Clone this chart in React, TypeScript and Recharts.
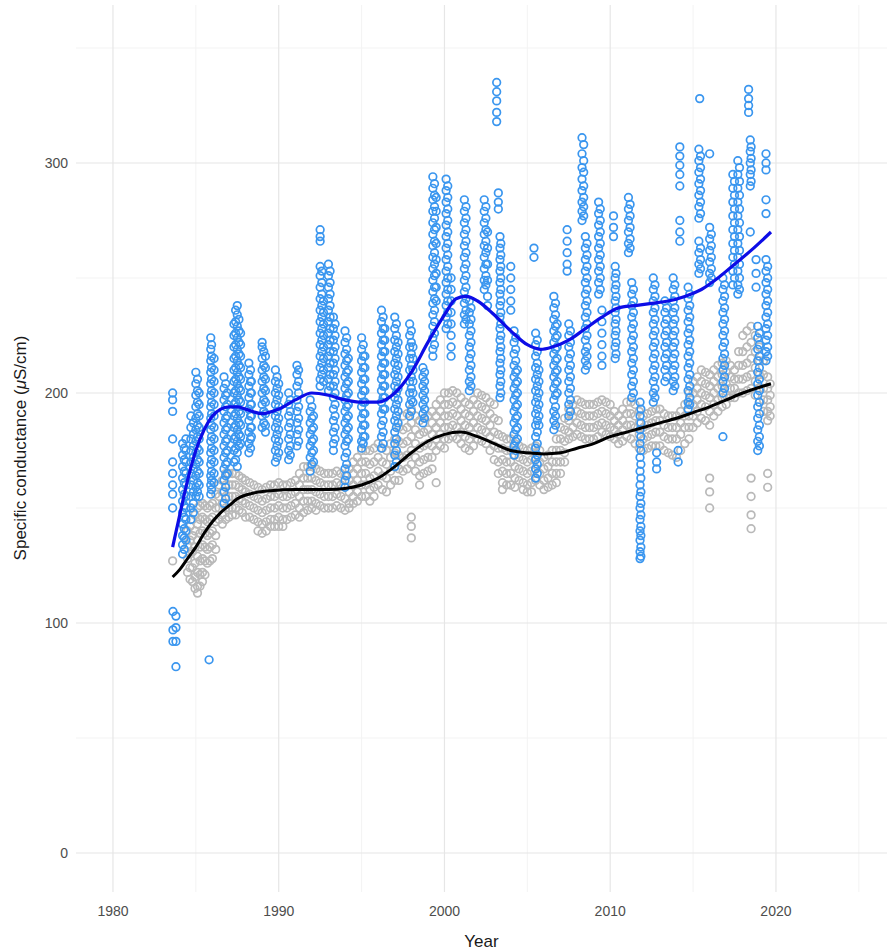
import React from "react";
import { ComposedChart, Scatter, Line, XAxis, YAxis, CartesianGrid } from "recharts";

// each streak: [year, ...readings]
const blueStreaks: number[][] = [
  [1983.6, 200, 197, 192, 180, 170, 165, 160, 156, 150],
  [1983.62, 105, 97, 92],
  [1983.8, 103, 98, 92, 81],
  [1984.2, 178, 173, 168, 163, 158, 153, 148, 143, 138, 134, 130],
  [1984.4, 180, 175, 170, 165, 160, 155, 150, 145, 140, 136],
  [1984.7, 190, 185, 180, 175, 170, 165, 160, 155, 150, 145],
  [1985.0, 209, 204, 199, 194, 189, 184, 179, 174, 169, 164, 159, 155],
  [1985.2, 200, 195, 190, 185, 180, 175, 170, 165, 160, 155],
  [1985.8, 84],
  [1985.9, 224, 219, 214, 209, 204, 199, 194, 189, 184, 179, 174, 169, 164, 160, 156],
  [1986.1, 215, 210, 205, 200, 195, 190, 185, 180, 175, 170, 165, 161],
  [1986.7, 207, 202, 197, 192, 187, 182, 177, 172, 167, 162, 157, 152],
  [1986.9, 200, 195, 190, 185, 180, 175, 170, 165],
  [1987.3, 230, 225, 220, 215, 210, 205, 200, 195, 190, 185, 180, 175, 170],
  [1987.5, 238, 234, 229, 224, 219, 214, 209, 204, 199, 194, 189, 184, 179, 174, 168],
  [1987.7, 226, 221, 216, 211, 206, 201, 196, 191, 186, 181, 178],
  [1988.2, 213, 208, 203, 198, 193, 188, 183, 178, 174],
  [1988.35, 205, 200, 195, 190, 185, 181],
  [1989.0, 222, 220, 215, 210, 205, 200, 195, 190, 185],
  [1989.2, 216, 211, 206, 201, 196, 191, 186, 183],
  [1989.8, 210, 205, 200, 195, 190, 185, 180, 175, 170],
  [1990.0, 204, 199, 194, 189, 184, 179, 174],
  [1990.6, 200, 195, 190, 185, 180, 175, 171],
  [1991.1, 212, 208, 203, 197, 192, 187, 182, 177],
  [1991.9, 197, 192, 187, 182, 177, 172, 166],
  [1992.1, 190, 185, 180, 175, 170],
  [1992.5, 271, 268, 266, 255, 251, 246, 241, 236, 231, 226, 221, 216, 211, 206, 203],
  [1992.7, 240, 235, 230, 225, 220, 215, 210, 205],
  [1993.0, 256, 251, 246, 241, 236, 231, 226, 221, 216, 211, 206, 201],
  [1993.3, 233, 228, 223, 218, 213, 208, 203, 198, 193, 188, 183, 178, 175],
  [1994.0, 227, 222, 217, 212, 207, 202, 197, 192, 187, 182, 177, 172, 167, 162, 159],
  [1994.2, 215, 210, 205, 200, 195, 190, 185, 180],
  [1995.0, 224, 219, 214, 209, 204, 199, 194, 189, 184, 179, 176],
  [1995.2, 216, 211, 206, 201, 196, 191, 186, 181],
  [1996.2, 236, 231, 226, 221, 216, 211, 206, 201, 196, 191, 186, 181, 176],
  [1996.4, 228, 223, 218, 213, 208, 203, 198, 193],
  [1997.0, 233, 228, 223, 218, 213, 208, 203, 198, 193, 188, 183, 178, 173, 168],
  [1997.2, 222, 217, 212, 207, 202, 197, 192, 187],
  [1997.9, 230, 225, 220, 215, 210, 205, 200, 195, 190],
  [1998.1, 220, 215, 210, 205, 200, 196],
  [1998.7, 211, 207, 203, 199, 195, 191, 187],
  [1999.3, 294, 289, 284, 279, 274, 269, 264, 259, 254, 249, 244, 239, 234, 229, 224, 219, 216],
  [1999.5, 285, 279, 272, 265, 258, 252, 246, 240],
  [2000.1, 293, 288, 283, 278, 273, 268, 263, 258, 253, 248, 243, 238, 233, 228],
  [2000.4, 250, 245, 240, 235, 230, 225, 220, 216],
  [2001.2, 284, 279, 274, 269, 264, 259, 254, 249, 244, 239, 234, 230],
  [2001.5, 240, 235, 230, 225, 220, 215, 210, 205, 201],
  [2002.4, 284, 279, 274, 269, 264, 259, 254, 249, 245],
  [2002.6, 270, 263, 256, 249, 242, 238],
  [2003.15, 335, 331, 327, 322, 318],
  [2003.25, 287, 283, 280],
  [2003.35, 268, 263, 258, 253, 248, 243, 238, 233, 228, 223, 218, 213, 208, 203, 198],
  [2004.0, 255, 250, 245, 240, 236],
  [2004.2, 227, 222, 217, 212, 207, 202, 197, 192, 187, 182, 177, 173],
  [2004.4, 210, 205, 200, 195, 190, 185, 180],
  [2005.4, 263, 259],
  [2005.5, 226, 221, 216, 211, 206, 201, 196, 191, 186, 181, 176, 171, 167, 163],
  [2005.7, 210, 205, 200, 195, 190, 186],
  [2006.6, 242, 237, 232, 227, 222, 217, 212, 207, 202, 197, 192, 188, 184],
  [2006.8, 230, 225, 220, 215, 210, 205, 200],
  [2007.4, 271, 266, 261, 256, 253],
  [2007.5, 230, 225, 220, 215, 210, 205, 200, 195, 190],
  [2008.3, 311, 304, 298, 293, 288, 283, 279, 275],
  [2008.5, 268, 263, 258, 253, 248, 243, 238, 233, 228, 223, 218, 214, 210],
  [2009.3, 283, 278, 273, 268, 263, 258, 253, 248, 243],
  [2009.5, 236, 231, 226, 221, 216, 212],
  [2010.2, 277, 272, 268],
  [2010.3, 255, 250, 245, 240, 235, 230, 225, 220, 215],
  [2011.1, 285, 280, 275, 270, 265, 261],
  [2011.3, 248, 243, 238, 233, 228, 223, 218, 213, 208, 203, 198],
  [2011.8, 196, 190, 184, 178, 172, 166, 160, 155, 150, 145, 140, 136, 131, 128],
  [2012.6, 250, 245, 240, 235, 230, 225, 220, 215, 210, 205, 200, 196],
  [2012.8, 174, 170, 167],
  [2013.3, 240, 235, 230, 225, 220, 215, 210, 205],
  [2013.8, 250, 245, 240, 235, 230, 225, 220, 215, 210, 205, 201],
  [2014.1, 175, 170],
  [2014.2, 307, 303, 299, 295, 290, 275, 270, 266],
  [2014.7, 246, 241, 236, 231, 226, 221, 216, 211, 206, 201, 196, 193],
  [2015.4, 328],
  [2015.35, 306, 301, 296, 291, 286, 281, 276, 266, 261, 256, 252],
  [2016.0, 304, 272, 267, 262, 257, 252, 248],
  [2016.8, 250, 245, 240, 235, 230, 225, 220, 215, 210, 205, 200, 181],
  [2017.4, 295, 289, 283, 277, 271, 265, 259, 253, 247],
  [2017.7, 301, 295, 289, 283, 277, 271, 265, 259, 253, 247, 243],
  [2018.35, 332, 328, 325, 322],
  [2018.45, 310, 305, 300, 295, 290, 270],
  [2018.8, 258, 252, 246],
  [2018.9, 229, 224, 219, 214, 209, 204, 199, 194, 189, 184, 179, 175],
  [2019.4, 304, 300, 297, 284, 278, 258, 253, 248, 243, 238, 233, 228, 223, 218, 214],
];

// second pass of readings between the first ones (the streaks are dense)
const blueFill: number[][] = [
  [1984.3, 176, 171, 166, 161, 156, 151, 146, 141, 137, 132],
  [1984.85, 187, 182, 177, 172, 167, 162, 157, 152, 148],
  [1985.1, 206, 201, 196, 191, 186, 181, 176, 171, 166, 161, 157],
  [1985.95, 221, 216, 211, 206, 201, 196, 191, 186, 181, 176, 171, 166, 162, 158],
  [1986.8, 204, 199, 194, 189, 184, 179, 174, 169, 164, 159, 154],
  [1987.4, 236, 231, 226, 221, 216, 211, 206, 201, 196, 191, 186, 181, 176, 171],
  [1987.6, 232, 227, 222, 217, 212, 207, 202, 197, 192, 187, 182, 177],
  [1988.3, 210, 205, 200, 195, 190, 185, 180, 176],
  [1989.1, 218, 212, 207, 202, 197, 192, 187],
  [1989.9, 207, 202, 197, 192, 187, 182, 177, 172],
  [1990.7, 197, 192, 187, 182, 177, 173],
  [1991.2, 210, 205, 200, 194, 189, 184, 179],
  [1992.0, 194, 189, 184, 179, 174, 169],
  [1992.6, 253, 248, 243, 238, 233, 228, 223, 218, 213, 208],
  [1993.1, 253, 248, 243, 238, 233, 228, 223, 218, 213, 208, 203],
  [1993.4, 230, 225, 220, 215, 210, 205, 200, 195, 190, 185, 180],
  [1994.1, 224, 219, 214, 209, 204, 199, 194, 189, 184, 179, 174, 169, 164],
  [1995.1, 221, 216, 211, 206, 201, 196, 191, 186, 181, 178],
  [1996.3, 233, 228, 223, 218, 213, 208, 203, 198, 193, 188, 183, 178],
  [1997.1, 230, 225, 220, 215, 210, 205, 200, 195, 190, 185, 180, 175, 170],
  [1998.0, 227, 222, 217, 212, 207, 202, 197, 192],
  [1998.8, 209, 205, 201, 197, 193, 189],
  [1999.4, 291, 286, 281, 276, 271, 266, 261, 256, 251, 246, 241, 236, 231, 226, 221],
  [2000.2, 290, 285, 280, 275, 270, 265, 260, 255, 250, 245, 240, 235, 230],
  [2001.3, 281, 276, 271, 266, 261, 256, 251, 246, 241, 236, 232],
  [2001.6, 237, 232, 227, 222, 217, 212, 207, 203],
  [2002.5, 281, 276, 271, 266, 261, 256, 251, 247],
  [2003.4, 265, 260, 255, 250, 245, 240, 235, 230, 225, 220, 215, 210, 205, 200],
  [2004.3, 224, 219, 214, 209, 204, 199, 194, 189, 184, 179, 175],
  [2005.6, 223, 218, 213, 208, 203, 198, 193, 188, 183, 178, 173, 169, 165],
  [2006.7, 239, 234, 229, 224, 219, 214, 209, 204, 199, 194, 190, 186],
  [2007.6, 227, 222, 217, 212, 207, 202, 197, 192],
  [2008.4, 308, 301, 296, 290, 285, 281, 277],
  [2008.6, 265, 260, 255, 250, 245, 240, 235, 230, 225, 220, 216, 212],
  [2009.4, 280, 275, 270, 265, 260, 255, 250, 245],
  [2010.35, 252, 247, 242, 237, 232, 227, 222, 217],
  [2011.2, 282, 277, 272, 267, 263],
  [2011.4, 245, 240, 235, 230, 225, 220, 215, 210, 205, 200],
  [2011.85, 193, 187, 181, 175, 169, 163, 157, 152, 147, 142, 138, 133, 129],
  [2012.7, 247, 242, 237, 232, 227, 222, 217, 212, 207, 202, 198],
  [2013.4, 237, 232, 227, 222, 217, 212, 207],
  [2013.9, 247, 242, 237, 232, 227, 222, 217, 212, 207, 203],
  [2014.8, 243, 238, 233, 228, 223, 218, 213, 208, 203, 198, 195],
  [2015.45, 303, 298, 293, 288, 283, 278, 263, 258, 254],
  [2016.1, 269, 264, 259, 254, 250],
  [2016.9, 247, 242, 237, 232, 227, 222, 217, 212, 207, 202],
  [2017.5, 292, 286, 280, 274, 268, 262, 256, 250],
  [2017.8, 298, 292, 286, 280, 274, 268, 262, 256, 250, 245],
  [2018.5, 307, 302, 297, 292],
  [2019.0, 226, 221, 216, 211, 206, 201, 196, 191, 186, 181, 177],
  [2019.5, 255, 250, 245, 240, 235, 230, 225, 220, 216],
];

const greyStreaks: number[][] = [
  [1983.6, 127],
  [1984.5, 140, 134, 128, 122],
  [1984.8, 145, 138, 131, 124, 118],
  [1985.1, 150, 143, 136, 129, 122, 116, 113],
  [1985.4, 152, 146, 140, 134, 128, 122, 118],
  [1985.7, 150, 144, 138, 132, 126],
  [1986.0, 152, 146, 140, 134, 128],
  [1986.4, 160, 155, 150, 145],
  [1986.8, 165, 160, 155, 150, 145],
  [1987.2, 165, 160, 155, 150, 147],
  [1987.6, 164, 159, 154, 149],
  [1988.0, 162, 157, 152, 146],
  [1988.5, 160, 155, 150, 145],
  [1989.0, 158, 153, 148, 143, 139],
  [1989.5, 160, 155, 150, 145, 142],
  [1990.0, 161, 156, 151, 146, 142],
  [1990.5, 160, 155, 150, 145],
  [1991.0, 162, 157, 152, 147],
  [1991.5, 168, 163, 158, 153, 148],
  [1992.0, 168, 163, 158, 153, 150],
  [1992.5, 166, 161, 156, 151],
  [1993.0, 165, 160, 155, 150],
  [1993.5, 166, 161, 156, 151],
  [1994.0, 164, 159, 154, 149],
  [1994.5, 170, 165, 160, 155, 152],
  [1995.0, 175, 170, 165, 160, 155],
  [1995.5, 175, 169, 163, 158, 153],
  [1996.0, 178, 172, 166, 160],
  [1996.5, 175, 169, 163, 157],
  [1997.0, 180, 174, 168, 162],
  [1997.5, 190, 184, 178, 172, 166],
  [1998.0, 193, 187, 181, 175, 169, 146, 142, 137],
  [1998.5, 188, 182, 176, 170, 164, 160],
  [1999.0, 190, 184, 178, 172, 166],
  [1999.5, 195, 190, 185, 180, 175, 161],
  [2000.0, 200, 195, 190, 185, 180, 176],
  [2000.5, 201, 196, 191, 186, 181],
  [2001.0, 198, 193, 188, 183, 178],
  [2001.5, 195, 190, 185, 180, 175],
  [2002.0, 200, 195, 190, 185, 180],
  [2002.5, 198, 193, 188, 183, 178],
  [2003.0, 195, 189, 183, 177, 171],
  [2003.5, 181, 176, 171, 166, 161, 158],
  [2004.0, 180, 175, 170, 165, 160],
  [2004.5, 177, 172, 167, 162],
  [2005.0, 175, 170, 165, 160, 157],
  [2005.5, 177, 172, 167, 162],
  [2006.0, 172, 167, 162, 158],
  [2006.5, 175, 170, 165, 160],
  [2007.0, 185, 180, 175, 170, 165],
  [2007.5, 193, 188, 183, 180],
  [2008.0, 197, 192, 187, 182],
  [2008.5, 195, 190, 185, 180],
  [2009.0, 195, 190, 185, 180],
  [2009.5, 197, 192, 187, 183],
  [2010.0, 195, 190, 185, 181],
  [2010.5, 190, 186, 182, 178],
  [2011.0, 196, 191, 186, 181],
  [2011.5, 195, 190, 185, 178],
  [2012.0, 190, 185, 180, 175],
  [2012.5, 192, 187, 182, 177],
  [2013.0, 193, 188, 183, 177],
  [2013.5, 190, 185, 180, 174],
  [2014.0, 190, 185, 180, 172],
  [2014.5, 195, 190, 185, 178],
  [2015.0, 205, 200, 195, 190, 185],
  [2015.5, 210, 205, 200, 195, 189],
  [2016.0, 208, 203, 198, 192, 186, 163, 157, 150],
  [2016.5, 212, 207, 202, 197, 192],
  [2017.0, 214, 209, 204, 199, 195],
  [2017.5, 210, 206, 202, 198],
  [2018.0, 225, 218, 212, 206, 200],
  [2018.5, 229, 222, 215, 208, 202, 163, 155, 147, 141],
  [2019.0, 220, 214, 208, 202, 196],
  [2019.5, 207, 202, 197, 192, 188, 165, 159],
];

const greyFill: number[][] = [
  [1984.65, 142, 136, 130, 124, 119],
  [1984.95, 147, 140, 133, 126, 120, 115],
  [1985.25, 151, 145, 139, 133, 127, 121, 116],
  [1985.55, 151, 145, 139, 133, 127, 121],
  [1985.85, 151, 145, 139, 133, 127],
  [1986.2, 156, 150, 144, 138, 132],
  [1986.6, 162, 157, 152, 147, 143],
  [1987.0, 165, 160, 155, 150, 146],
  [1987.4, 165, 160, 155, 150, 147],
  [1987.8, 163, 158, 153, 148],
  [1988.25, 161, 156, 151, 146],
  [1988.75, 159, 154, 149, 144, 140],
  [1989.25, 159, 154, 149, 144, 140],
  [1989.75, 160, 155, 150, 145, 142],
  [1990.25, 160, 155, 150, 145, 142],
  [1990.75, 161, 156, 151, 146],
  [1991.25, 165, 160, 155, 150, 146],
  [1991.75, 168, 163, 158, 153, 149],
  [1992.25, 167, 162, 157, 152, 149],
  [1992.75, 165, 160, 155, 150],
  [1993.25, 165, 160, 155, 150],
  [1993.75, 165, 160, 155, 150],
  [1994.25, 167, 162, 157, 152, 150],
  [1994.75, 172, 167, 162, 157, 153],
  [1995.25, 175, 170, 165, 160, 155],
  [1995.75, 176, 170, 164, 159, 155],
  [1996.25, 176, 170, 164, 158],
  [1996.75, 178, 172, 166, 160],
  [1997.25, 185, 179, 173, 167, 162],
  [1997.75, 191, 185, 179, 173, 167],
  [1998.25, 190, 184, 178, 172, 166],
  [1998.75, 189, 183, 177, 171, 165],
  [1999.25, 192, 187, 182, 177, 172, 167],
  [1999.75, 197, 192, 187, 182, 177],
  [2000.25, 200, 195, 190, 185, 180],
  [2000.75, 200, 195, 190, 185, 180],
  [2001.25, 196, 191, 186, 181, 176],
  [2001.75, 197, 192, 187, 182, 177],
  [2002.25, 199, 194, 189, 184, 179],
  [2002.75, 196, 191, 186, 181, 175],
  [2003.25, 188, 182, 176, 170, 165],
  [2003.75, 180, 175, 170, 165, 160],
  [2004.25, 178, 173, 168, 163, 159],
  [2004.75, 176, 171, 166, 161, 158],
  [2005.25, 176, 171, 166, 161, 157],
  [2005.75, 175, 170, 165, 160],
  [2006.25, 173, 168, 163, 159],
  [2006.75, 180, 175, 170, 165, 161],
  [2007.25, 189, 184, 179, 174, 170],
  [2007.75, 195, 190, 185, 181],
  [2008.25, 196, 191, 186, 181],
  [2008.75, 195, 190, 185, 180],
  [2009.25, 196, 191, 186, 181],
  [2009.75, 196, 191, 186, 182],
  [2010.25, 192, 188, 184, 180],
  [2010.75, 193, 188, 184, 179],
  [2011.25, 196, 191, 186, 180],
  [2011.75, 192, 187, 182, 176],
  [2012.25, 191, 186, 181, 176],
  [2012.75, 193, 188, 183, 177],
  [2013.25, 191, 186, 181, 175],
  [2013.75, 190, 185, 180, 173],
  [2014.25, 192, 187, 182, 175],
  [2014.75, 200, 195, 190, 185, 180],
  [2015.25, 207, 202, 197, 192, 187],
  [2015.75, 209, 204, 199, 194, 188],
  [2016.25, 210, 205, 200, 195, 190],
  [2016.75, 213, 208, 203, 198, 194],
  [2017.25, 212, 207, 202, 198],
  [2017.75, 218, 212, 206, 200],
  [2018.25, 227, 220, 213, 207, 201],
  [2018.75, 225, 218, 211, 205, 199],
  [2019.25, 214, 208, 202, 197, 192],
  [2019.65, 204, 199, 194, 190],
];

const blueTrendYears = [1983.6, 1984.0, 1984.5, 1985.0, 1985.5, 1986.0, 1986.5, 1987.0, 1987.5, 1988.0, 1989.0, 1990.0, 1991.0, 1992.0, 1993.0, 1994.0, 1995.0, 1996.0, 1997.0, 1998.0, 1999.0, 2000.0, 2000.7, 2001.3, 2002.0, 2003.0, 2004.0, 2005.0, 2005.8, 2006.5, 2007.5, 2008.5, 2009.5, 2010.5, 2011.5, 2012.5, 2013.5, 2014.5, 2015.5, 2016.5, 2017.5, 2018.5, 2019.7];
const blueTrendValues = [133, 146, 162, 175, 184, 190, 193, 194, 194, 193, 191, 193, 197, 200, 199, 197, 196, 196, 200, 209, 222, 234, 241, 242, 240, 234, 227, 221, 219, 220, 223, 228, 233, 237, 238, 239, 240, 242, 245, 250, 256, 262, 270];

const blackTrendYears = [1983.6, 1984.0, 1984.5, 1985.0, 1985.5, 1986.0, 1986.5, 1987.0, 1987.5, 1988.5, 1989.5, 1991.0, 1993.0, 1994.0, 1995.0, 1996.0, 1997.0, 1998.0, 1999.0, 2000.0, 2001.0, 2002.0, 2003.0, 2004.0, 2005.0, 2006.0, 2007.0, 2008.0, 2009.0, 2010.0, 2011.0, 2012.0, 2013.0, 2014.0, 2015.0, 2016.0, 2017.0, 2018.0, 2019.7];
const blackTrendValues = [120, 123, 128, 133, 139, 144, 148, 151, 154, 156.5, 157.5, 158, 158, 158.5, 160, 163, 168, 174, 179, 182, 183, 181, 178, 175, 174, 173.5, 174, 176, 178, 181, 183, 185, 187, 189, 191.5, 194, 197, 200, 204];

const yearTicks = [1980, 1990, 2000, 2010, 2020];
const yearMinor = [1985, 1995, 2005, 2015, 2025];
const valueTicks = [0, 100, 200, 300];
const valueMinor = [50, 150, 250, 350];

const toPoints = (streaks: number[][]) =>
  streaks.flatMap(([year, ...vals]) => vals.map((value) => ({ year, value })));
const toLine = (years: number[], values: number[]) =>
  years.map((year, i) => ({ year, value: values[i] }));

const bluePoints = [...toPoints(blueStreaks), ...toPoints(blueFill)];
const greyPoints = [...toPoints(greyStreaks), ...toPoints(greyFill)];
const blueTrend = toLine(blueTrendYears, blueTrendValues);
const blackTrend = toLine(blackTrendYears, blackTrendValues);

const font = "'Liberation Sans', Arial, sans-serif";

const ring = (color: string) => (props: any) =>
  <circle cx={props.cx} cy={props.cy} r={3.8} fill="none" stroke={color} strokeWidth={1.7} />;

const YLabel = () => (
  <text x={22} y={448} transform="rotate(-90 22 448)" textAnchor="middle" dominantBaseline="middle"
    fontFamily={font} fontSize={17} fill="#1a1a1a">
    Specific conductance (<tspan fontStyle="italic">μ</tspan>S/cm)
  </text>
);

export default function App() {
  return (
    <div style={{ position: "absolute", left: 0, top: 0 }}>
      <ComposedChart width={887} height={951} margin={{ top: 5, right: 0, left: 0, bottom: 0 }}>
        <CartesianGrid stroke="#f3f3f3" strokeWidth={1} horizontalValues={valueMinor} verticalValues={yearMinor} />
        <CartesianGrid stroke="#e6e6e6" strokeWidth={1.2} horizontalValues={valueTicks} verticalValues={yearTicks} />
        <XAxis dataKey="year" type="number" domain={[1977.77, 2026.7]} allowDataOverflow ticks={yearTicks}
          axisLine={false} tickLine={false} tickMargin={8} height={59}
          tick={{ fill: "#4d4d4d", fontSize: 14, fontFamily: font }}
          label={{ value: "Year", position: "insideBottom", offset: 4, fill: "#1a1a1a", fontSize: 17, fontFamily: font }} />
        <YAxis dataKey="value" type="number" domain={[-16.96, 368.7]} allowDataOverflow ticks={valueTicks}
          axisLine={false} tickLine={false} width={76}
          tick={{ fill: "#4d4d4d", fontSize: 14, fontFamily: font }}
          label={<YLabel />} />
        <Scatter data={greyPoints} dataKey="value" shape={ring("#b9b9b9")} isAnimationActive={false} zIndex={600} />
        <Scatter data={bluePoints} dataKey="value" shape={ring("#3a96ef")} isAnimationActive={false} zIndex={610} />
        <Line data={blackTrend} dataKey="value" type="monotone" stroke="#000000" strokeWidth={3}
          dot={false} activeDot={false} isAnimationActive={false} zIndex={900} />
        <Line data={blueTrend} dataKey="value" type="monotone" stroke="#0d0de6" strokeWidth={3.2}
          dot={false} activeDot={false} isAnimationActive={false} zIndex={910} />
      </ComposedChart>
    </div>
  );
}
